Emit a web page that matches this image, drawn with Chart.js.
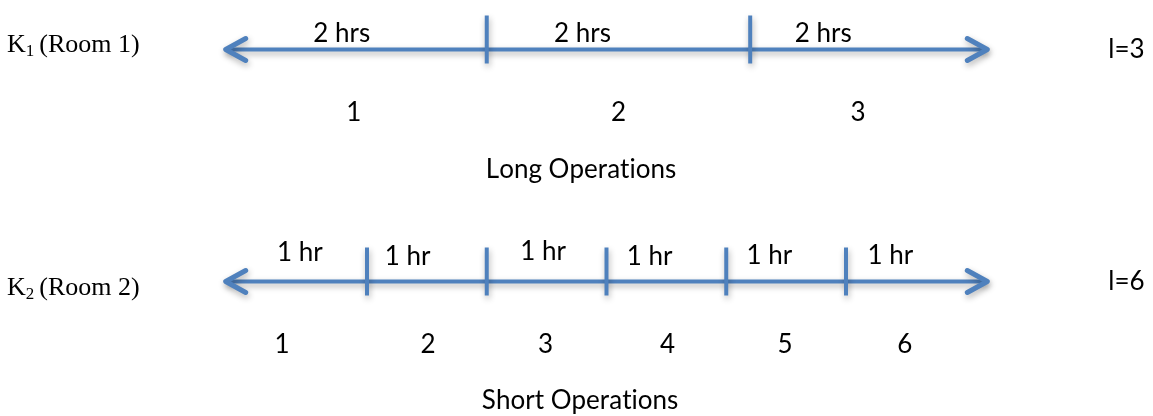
<!DOCTYPE html>
<html><head><meta charset="utf-8">
<script src="https://cdn.jsdelivr.net/npm/chart.js@4/dist/chart.umd.min.js"></script>
<style>html,body{margin:0;padding:0;background:#fff;overflow:hidden}#c{display:block}</style>
</head><body>
<canvas id="c" width="1153" height="416"></canvas>
<script>
// ---- data ----
const roomCodes = ['K', 'K'];
const roomSubs = ['1', '2'];
const roomNames = ['(Room 1)', '(Room 2)'];
const roomCounts = ['l=3', 'l=6'];
const operationTypes = ['Long Operations', 'Short Operations'];
// timeline, in hours
const timelineSpan = [-0.18, 6.18];
const room1Dividers = [2.0, 4.2];
const room2Dividers = [1, 2, 3, 4, 5];
const room1Durations = ['2 hrs', '2 hrs', '2 hrs'];
const room2Durations = ['1 hr', '1 hr', '1 hr', '1 hr', '1 hr', '1 hr'];
const room1DurationAt = [0.79, 2.80, 4.81];
const room2DurationAt = [0.44, 1.34, 2.47, 3.36, 4.36, 5.37];
const room1Slots = ['1', '2', '3'];
const room2Slots = ['1', '2', '3', '4', '5', '6'];
const room1SlotAt = [0.89, 3.10, 5.10];
const room2SlotAt = [0.29, 1.51, 2.49, 3.51, 4.49, 5.49];
const operationTitleAt = [2.787, 2.779];
const roomCountAt = [7.19, 7.19];

// ---- styles ----
const BLUE = '#4F81BD';
const SANS = 'Lato, "Open Sans", sans-serif';
const SERIF = '"Liberation Serif", "Times New Roman", serif';
const room1DurationLift = [-7.5, -7.5, -7.5];
const room2DurationLift = [-20.5, -16.5, -21.5, -16.5, -17.5, -17.5];
const slotDrop = [71.5, 71.5];
const titleDrop = [128.5, 127.5];
const roomLabelDrop = [2.5, 13.5];
const countDrop = [8.5, 8.5];

const rowsDividers = [room1Dividers, room2Dividers];
const rowsDurations = [room1Durations, room2Durations];
const rowsDurationAt = [room1DurationAt, room2DurationAt];
const rowsDurationLift = [room1DurationLift, room2DurationLift];
const rowsSlots = [room1Slots, room2Slots];
const rowsSlotAt = [room1SlotAt, room2SlotAt];

const datasets = [];
[0, 1].forEach(r => {
  datasets.push({
    role: 'shaft', row: r,
    data: timelineSpan.map(x => ({x, y: r + 1})),
    borderColor: BLUE, borderWidth: 4, pointRadius: 0, fill: false, tension: 0,
    borderCapStyle: 'butt'
  });
  datasets.push({
    role: 'divider', row: r,
    data: rowsDividers[r].map(x => ({x, y: r + 1})),
    showLine: false, pointRadius: 0, borderColor: BLUE
  });
});

function drawHead(ctx, x, y, dir) {
  ctx.beginPath();
  ctx.moveTo(x - dir * 20, y - 11);
  ctx.lineTo(x, y);
  ctx.lineTo(x - dir * 20, y + 11);
  ctx.strokeStyle = BLUE;
  ctx.lineWidth = 5;
  ctx.lineJoin = 'round';
  ctx.lineCap = 'round';
  ctx.stroke();
}

// draw text glyph by glyph (avoids ligatures such as "ti")
function plainText(ctx, text, x, y, align) {
  const chars = Array.from(text);
  const widths = chars.map(c => ctx.measureText(c).width);
  const total = widths.reduce((a, b) => a + b, 0);
  let cx = align === 'center' ? x - total / 2 : x;
  const prev = ctx.textAlign;
  ctx.textAlign = 'left';
  chars.forEach((c, i) => { ctx.fillText(c, cx, y); cx += widths[i]; });
  ctx.textAlign = prev;
}

const diagramPlugin = {
  id: 'diagram',
  beforeDatasetsDraw(chart) {
    const ctx = chart.ctx;
    ctx.save();
    ctx.shadowColor = 'rgba(0,0,0,0.30)';
    ctx.shadowBlur = 6;
    ctx.shadowOffsetX = 1;
    ctx.shadowOffsetY = 3;
  },
  afterDatasetsDraw(chart) {
    const ctx = chart.ctx;
    chart.data.datasets.forEach((ds, i) => {
      const pts = chart.getDatasetMeta(i).data;
      if (ds.role === 'shaft') {
        drawHead(ctx, pts[0].x, pts[0].y, -1);
        drawHead(ctx, pts[pts.length - 1].x, pts[pts.length - 1].y, 1);
      } else if (ds.role === 'divider') {
        ctx.strokeStyle = BLUE; ctx.lineWidth = 4; ctx.lineCap = 'butt';
        pts.forEach(p => {
          ctx.beginPath(); ctx.moveTo(p.x, p.y - 34); ctx.lineTo(p.x, p.y + 14); ctx.stroke();
        });
      }
    });
    ctx.restore();

    // texts
    const xs = chart.scales.x, ys = chart.scales.y;
    ctx.save();
    ctx.fillStyle = '#000';
    ctx.textBaseline = 'alphabetic';
    [0, 1].forEach(r => {
      const rowY = ys.getPixelForValue(r + 1);
      ctx.font = '26px ' + SANS;
      rowsDurations[r].forEach((t, k) => {
        plainText(ctx, t, xs.getPixelForValue(rowsDurationAt[r][k]), rowY + rowsDurationLift[r][k], 'center');
      });
      rowsSlots[r].forEach((t, k) => {
        plainText(ctx, t, xs.getPixelForValue(rowsSlotAt[r][k]), rowY + slotDrop[r], 'center');
      });
      plainText(ctx, operationTypes[r], xs.getPixelForValue(operationTitleAt[r]), rowY + titleDrop[r], 'center');
      plainText(ctx, roomCounts[r], xs.getPixelForValue(roomCountAt[r]), rowY + countDrop[r], 'left');
      // room label (serif, with subscript)
      ctx.textAlign = 'left';
      let x = chart.chartArea.left + 7;
      const by = rowY + roomLabelDrop[r];
      ctx.font = '26px ' + SERIF;
      ctx.fillText(roomCodes[r], x, by);
      x += ctx.measureText(roomCodes[r]).width;
      ctx.font = '17px ' + SERIF;
      ctx.fillText(roomSubs[r], x, by + 4);
      x += ctx.measureText(roomSubs[r]).width + 5;
      ctx.font = '26px ' + SERIF;
      ctx.fillText(roomNames[r], x, by);
    });
    ctx.restore();
  }
};

new Chart(document.getElementById('c'), {
  type: 'line',
  data: { datasets },
  options: {
    responsive: false,
    animation: false,
    events: [],
    layout: { padding: 0 },
    scales: {
      x: { type: 'linear', min: -2.0647, max: 7.5637, display: false },
      y: { type: 'linear', min: 0.78664, max: 2.57974, reverse: true, display: false }
    },
    plugins: { legend: { display: false }, tooltip: { enabled: false } }
  },
  plugins: [diagramPlugin]
});
</script>
</body></html>
